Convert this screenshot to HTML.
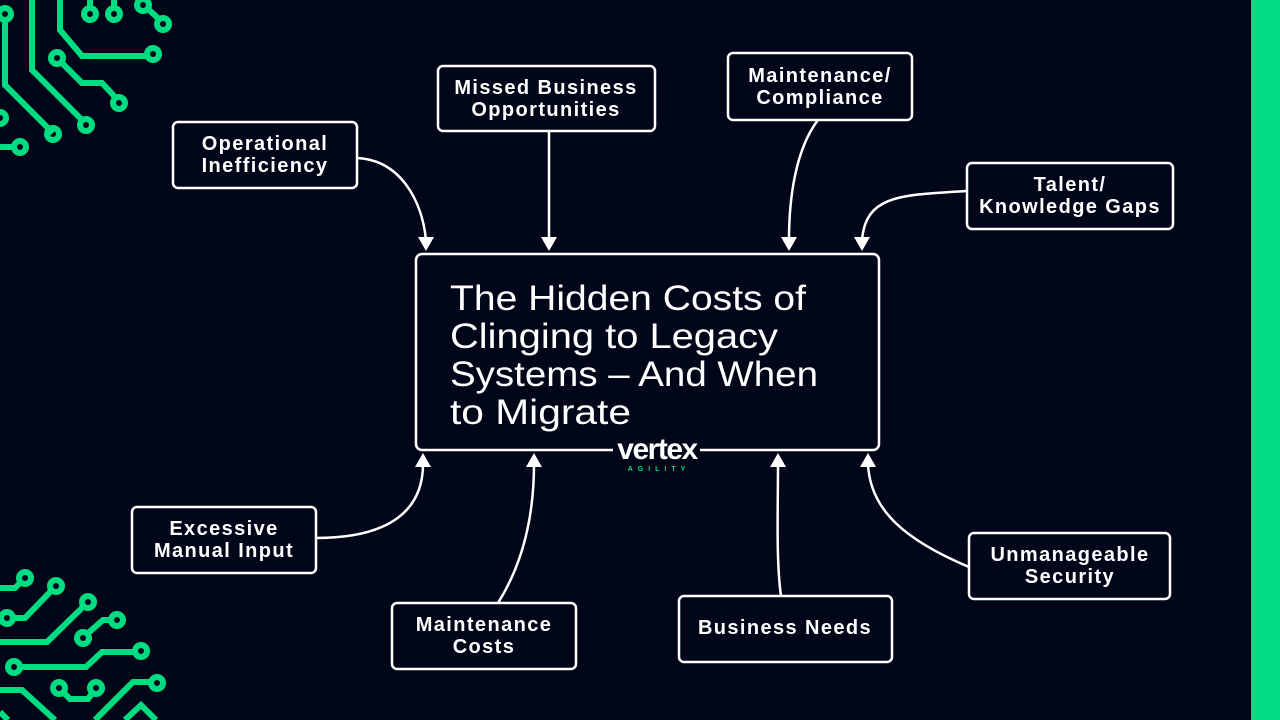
<!DOCTYPE html>
<html><head><meta charset="utf-8"><style>
html,body{margin:0;padding:0;background:#020619;}
svg{display:block}
</style></head><body>
<svg width="1280" height="720" viewBox="0 0 1280 720" xmlns="http://www.w3.org/2000/svg">
<rect width="1280" height="720" fill="#020619"/>
<rect x="1251" y="0" width="29" height="720" fill="#00dc82"/>
<g fill="none" stroke="#00dc82" stroke-width="6" stroke-linejoin="miter">
<path d="M5,20 V85 L53,133"/><circle cx="5" cy="14" r="6"/><circle cx="53" cy="134" r="6"/>
<path d="M32,0 V70 L82,120"/><circle cx="86" cy="125" r="6"/>
<path d="M60,0 V30 L82,56 H147"/><circle cx="153" cy="54" r="6"/>
<path d="M61,62 L82,83 H102 L116,98"/><circle cx="57" cy="58" r="6"/><circle cx="119" cy="103" r="6"/>
<path d="M90,0 V8 M114,0 V8"/><circle cx="90" cy="14" r="6"/><circle cx="114" cy="14" r="6"/>
<path d="M148,9 L160,20"/><circle cx="143" cy="5" r="6"/><circle cx="163" cy="24" r="6"/>
<circle cx="0" cy="118" r="6"/>
<path d="M0,147 H14"/><circle cx="20" cy="147" r="6"/>
<path d="M0,588 H15 L21,582"/><circle cx="25" cy="578" r="6"/>
<path d="M13,618 H25 L52,590"/><circle cx="7" cy="618" r="6"/><circle cx="56" cy="586" r="6"/>
<path d="M0,642 H47 L84,606"/><circle cx="88" cy="602" r="6"/>
<path d="M87,634 L103,620 H111"/><circle cx="83" cy="638" r="6"/><circle cx="117" cy="620" r="6"/>
<path d="M20,667 H86 L102,652 H135"/><circle cx="14" cy="667" r="6"/><circle cx="141" cy="651" r="6"/>
<path d="M0,690 H22 L55,720"/>
<path d="M63,692 L70,699 H88 L93,692"/><circle cx="59" cy="688" r="6"/><circle cx="96" cy="688" r="6"/>
<path d="M0,712 L8,720"/>
<path d="M95,720 L133,682 H151"/><circle cx="157" cy="683" r="6"/>
<path d="M125,720 L141,705 L156,720"/>
</g>
<g fill="none" stroke="#ffffff" stroke-width="2.5">
<path d="M357,158 C400,160 422,200 426,240"/>
<path d="M549,131 V240"/>
<path d="M818,120 C795,150 789,200 789,240"/>
<path d="M967,191 C900,195 866,195 862,240"/>
<path d="M316,538 C390,538 423,510 423,464"/>
<path d="M498,603 C525,560 534,510 534,464"/>
<path d="M781,596 C776,560 778,510 778,464"/>
<path d="M969,567 C905,540 870,510 868,464"/>
</g>
<g fill="#ffffff">
<path d="M418,237 L434,237 L426,251 Z"/>
<path d="M541,237 L557,237 L549,251 Z"/>
<path d="M781,237 L797,237 L789,251 Z"/>
<path d="M854,237 L870,237 L862,251 Z"/>
<path d="M415,467 L431,467 L423,453 Z"/>
<path d="M526,467 L542,467 L534,453 Z"/>
<path d="M770,467 L786,467 L778,453 Z"/>
<path d="M860,467 L876,467 L868,453 Z"/>
</g>
<g fill="#020619" stroke="#ffffff" stroke-width="2.5">
<rect x="173" y="122" width="184" height="66" rx="5"/>
<rect x="438" y="66" width="217" height="65" rx="5"/>
<rect x="728" y="53" width="184" height="67" rx="5"/>
<rect x="967" y="163" width="206" height="66" rx="5"/>
<rect x="416" y="254" width="463" height="196" rx="6"/>
<rect x="132" y="507" width="184" height="66" rx="5"/>
<rect x="392" y="603" width="184" height="66" rx="5"/>
<rect x="679" y="596" width="213" height="66" rx="5"/>
<rect x="969" y="533" width="201" height="66" rx="5"/>
</g>
<rect x="613" y="440" width="87" height="30" fill="#020619"/>
<g fill="#ffffff" font-family="Liberation Sans, sans-serif" font-weight="bold" font-size="20" text-anchor="middle" letter-spacing="1.4">
<text x="265" y="150">Operational</text><text x="265" y="172">Inefficiency</text>
<text x="546" y="94">Missed Business</text><text x="546" y="116">Opportunities</text>
<text x="820" y="82">Maintenance/</text><text x="820" y="104">Compliance</text>
<text x="1070" y="191">Talent/</text><text x="1070" y="213">Knowledge Gaps</text>
<text x="224" y="535">Excessive</text><text x="224" y="557">Manual Input</text>
<text x="484" y="631">Maintenance</text><text x="484" y="653">Costs</text>
<text x="785" y="634">Business Needs</text>
<text x="1070" y="561">Unmanageable</text><text x="1070" y="583">Security</text>
</g>
<g fill="#ffffff" font-family="Liberation Sans, sans-serif" font-size="35">
<text x="450" y="310" textLength="356" lengthAdjust="spacingAndGlyphs">The Hidden Costs of</text>
<text x="450" y="348" textLength="328" lengthAdjust="spacingAndGlyphs">Clinging to Legacy</text>
<text x="450" y="386" textLength="368" lengthAdjust="spacingAndGlyphs">Systems – And When</text>
<text x="450" y="424" textLength="181" lengthAdjust="spacingAndGlyphs">to Migrate</text>
</g>
<text x="657" y="459" text-anchor="middle" fill="#ffffff" font-family="Liberation Sans, sans-serif" font-weight="bold" font-size="30" letter-spacing="-1.5">vertex</text>
<text x="659" y="471" text-anchor="middle" fill="#00dc82" font-family="Liberation Sans, sans-serif" font-weight="bold" font-size="7" letter-spacing="5">AGILITY</text>
</svg>
</body></html>
